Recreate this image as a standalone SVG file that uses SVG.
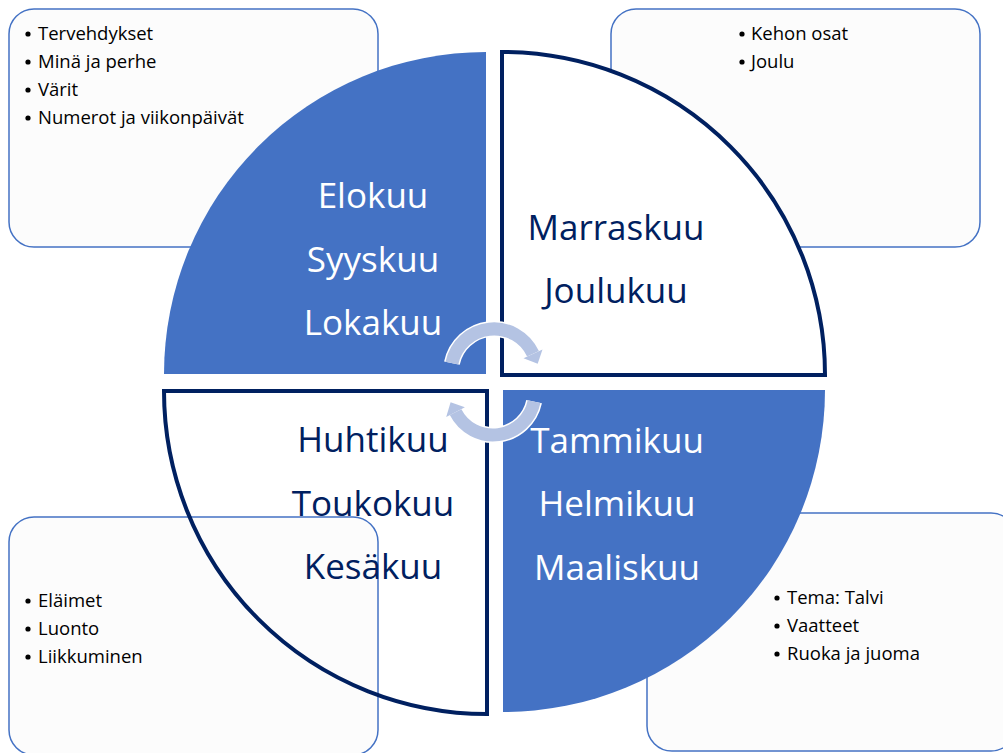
<svg xmlns="http://www.w3.org/2000/svg" width="1003" height="753" viewBox="0 0 1003 753">
<style>
.box{fill:#FCFCFC;stroke:#4472C4;stroke-width:1.5}
.blt{font-family:"Open Sans","Noto Sans",sans-serif;font-size:18.5px;fill:#000}
.dot{fill:#000}
.big{font-family:"Open Sans","Noto Sans",sans-serif;font-size:35px;text-anchor:middle}
.w{fill:#FFFFFF}
.n{fill:#002060}
.qb{fill:#4472C4;stroke:none}
.qw{stroke:#002060;stroke-width:4}
.arrO{fill:none;stroke:#FFFFFF;stroke-width:16}
.arrI{fill:none;stroke:#B4C3E3;stroke-width:13}
.headO{fill:#FFFFFF;stroke:#FFFFFF;stroke-width:3;stroke-linejoin:round}
.headI{fill:#B4C3E3}
</style>
<rect width="1003" height="753" fill="#FFFFFF"/>
<g id="box-tl">
<rect class="box" x="9" y="9" width="369" height="238" rx="25"/>
<circle class="dot" cx="28" cy="34" r="2.6"/><text class="blt" x="38" y="40">Tervehdykset</text>
<circle class="dot" cx="28" cy="62" r="2.6"/><text class="blt" x="38" y="68">Minä ja perhe</text>
<circle class="dot" cx="28" cy="90" r="2.6"/><text class="blt" x="38" y="96">Värit</text>
<circle class="dot" cx="28" cy="118" r="2.6"/><text class="blt" x="38" y="124">Numerot ja viikonpäivät</text>
</g>
<g id="box-tr">
<rect class="box" x="611" y="9" width="369" height="238" rx="25"/>
<circle class="dot" cx="742" cy="34" r="2.6"/><text class="blt" x="751" y="40">Kehon osat</text>
<circle class="dot" cx="742" cy="62" r="2.6"/><text class="blt" x="751" y="68">Joulu</text>
</g>
<g id="box-bl">
<rect class="box" x="9" y="517" width="369" height="238" rx="25"/>
<circle class="dot" cx="28" cy="601" r="2.6"/><text class="blt" x="38" y="607">Eläimet</text>
<circle class="dot" cx="28" cy="629" r="2.6"/><text class="blt" x="38" y="635">Luonto</text>
<circle class="dot" cx="28" cy="657" r="2.6"/><text class="blt" x="38" y="663">Liikkuminen</text>
</g>
<g id="box-br">
<rect class="box" x="647" y="513" width="369" height="238" rx="25"/>
<circle class="dot" cx="777" cy="598" r="2.6"/><text class="blt" x="787" y="604">Tema: Talvi</text>
<circle class="dot" cx="777" cy="626" r="2.6"/><text class="blt" x="787" y="632">Vaatteet</text>
<circle class="dot" cx="777" cy="654" r="2.6"/><text class="blt" x="787" y="660">Ruoka ja juoma</text>
</g>
<g id="q-tl">
<path class="qb" d="M486,374 L486,52 A322,322 0 0 0 164,374 Z"/>
<text class="big w" x="373" y="208">Elokuu</text>
<text class="big w" x="373" y="272">Syyskuu</text>
<text class="big w" x="373" y="335">Lokakuu</text>
</g>
<g id="q-tr">
<path class="qw" fill="#FFFFFF" d="M502,375 L502,52 A323,323 0 0 1 825,375 Z"/>
<text class="big n" x="616" y="240">Marraskuu</text>
<text class="big n" x="616" y="303">Joulukuu</text>
</g>
<g id="q-bl">
<path class="qw" fill="none" d="M487,391 L487,714 A323,323 0 0 1 164,391 Z"/>
<text class="big n" x="373" y="452">Huhtikuu</text>
<text class="big n" x="373" y="516">Toukokuu</text>
<text class="big n" x="373" y="579">Kesäkuu</text>
</g>
<g id="q-br">
<path class="qb" d="M503,390 L825,390 A322,322 0 0 1 503,712 Z"/>
<text class="big w" x="617" y="453">Tammikuu</text>
<text class="big w" x="617" y="516">Helmikuu</text>
<text class="big w" x="617" y="580">Maaliskuu</text>
</g>
<g id="connectors">
<path class="arrO" d="M451.9,363.1 A43,43 0 0 1 533,353.8"/>
<polygon class="headO" points="523.5,358.2 542.5,349.4 537.7,363.8"/>
<path class="arrI" d="M451.9,363.1 A43,43 0 0 1 533,353.8"/>
<polygon class="headI" points="523.5,358.2 542.5,349.4 537.7,363.8"/>
<path class="arrO" d="M534.1,401.7 A42,42 0 0 1 455.6,412.1"/>
<polygon class="headO" points="446.2,416.9 464.9,407.3 450.6,402.3"/>
<path class="arrI" d="M534.1,401.7 A42,42 0 0 1 455.6,412.1"/>
<polygon class="headI" points="446.2,416.9 464.9,407.3 450.6,402.3"/>
</g>
</svg>
